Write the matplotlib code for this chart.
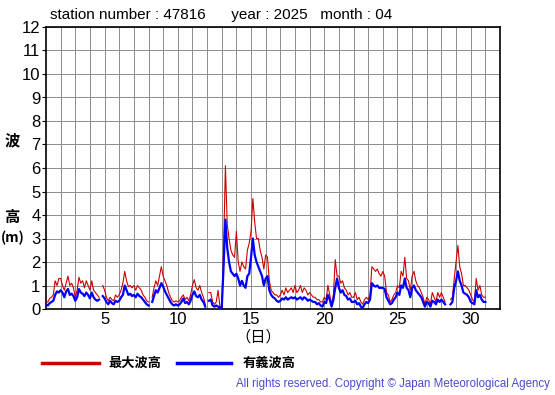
import numpy as np
import matplotlib
matplotlib.use("Agg")
import matplotlib.pyplot as plt

plt.rcParams['font.family'] = ['Liberation Sans', 'Noto Sans CJK JP']

# 3-hourly readings (00,03,...,21 h), one row per day, April 2025
# significant wave height (m)
sig_wave = [
    0.2, 0.15, 0.25, 0.3, 0.35, 0.6, 0.75, 0.7,      # 1
    0.8, 0.7, 0.5, 0.75, 0.85, 0.6, 0.65, 0.55,      # 2
    0.35, 0.5, 0.85, 0.7, 0.65, 0.55, 0.7, 0.6,      # 3
    0.45, 0.7, 0.5, 0.4, 0.35, 0.4, None, 0.55,      # 4
    0.45, 0.3, 0.2, 0.35, 0.25, 0.2, 0.35, 0.3,      # 5
    0.35, 0.5, 0.6, 1.0, 0.8, 0.6, 0.65, 0.55,       # 6
    0.6, 0.5, 0.65, 0.55, 0.5, 0.4, 0.3, 0.2,        # 7
    0.15, None, 0.3, 0.55, 0.8, 0.7, 0.9, 1.1,       # 8
    0.95, 0.75, 0.6, 0.45, 0.3, 0.2, 0.15, 0.2,      # 9
    0.15, 0.2, 0.3, 0.45, 0.25, 0.3, 0.2, 0.35,      # 10
    0.6, 0.75, 0.55, 0.5, 0.6, 0.4, 0.3, 0.1,        # 11
    None, 0.35, 0.4, 0.15, 0.1, 0.15, 0.1, 0.05,     # 12
    0.05, 1.8, 3.8, 2.6, 2.0, 1.6, 1.5, 1.4,         # 13
    1.5, 1.3, 1.0, 1.2, 1.0, 0.9, 1.4, 1.5,          # 14
    2.2, 3.0, 2.3, 2.0, 1.8, 1.6, 1.4, 1.0,          # 15
    1.3, 1.4, 0.8, 0.6, 0.5, 0.45, 0.35, 0.3,        # 16
    0.35, 0.45, 0.4, 0.5, 0.4, 0.45, 0.5, 0.45,      # 17
    0.5, 0.4, 0.45, 0.5, 0.4, 0.5, 0.45, 0.35,       # 18
    0.4, 0.35, 0.3, 0.3, 0.2, 0.25, 0.15, 0.1,       # 19
    0.3, 0.25, 0.6, 0.4, 0.1, 0.4, 0.9, 1.3,         # 20
    0.9, 0.7, 0.8, 0.6, 0.55, 0.4, 0.45, 0.3,        # 21
    0.3, 0.35, 0.2, 0.25, 0.1, 0.05, 0.2, 0.3,       # 22
    0.25, 0.4, 1.1, 1.0, 0.95, 1.0, 0.9, 0.9,        # 23
    0.9, 0.85, 0.5, 0.35, 0.2, 0.25, 0.4, 0.5,       # 24
    0.7, 0.6, 1.0, 0.9, 1.3, 0.9, 0.8, 0.5,          # 25
    0.9, 1.0, 0.8, 0.7, 0.6, 0.5, 0.3, 0.1,          # 26
    0.3, 0.25, 0.1, 0.35, 0.3, 0.2, 0.4, 0.3,        # 27
    0.4, 0.3, 0.2, None, None, 0.2, 0.3, 0.9,        # 28
    1.2, 1.6, 1.2, 1.0, 0.7, 0.65, 0.6, 0.5,         # 29
    0.3, 0.25, 0.2, 0.8, 0.5, 0.6, 0.4, 0.3,         # 30
    0.3,
]

# maximum wave height (m)
max_wave = [
    0.3, 0.3, 0.45, 0.5, 0.6, 1.2, 1.0, 1.3,         # 1
    1.3, 1.0, 0.8, 1.1, 1.4, 1.0, 1.1, 0.9,          # 2
    0.5, 0.8, 1.35, 1.1, 1.2, 0.9, 1.2, 1.0,         # 3
    0.8, 1.2, 0.8, 0.7, 0.6, 0.5, None, 1.0,         # 4
    0.8, 0.5, 0.35, 0.5, 0.4, 0.35, 0.6, 0.5,        # 5
    0.6, 0.8, 1.1, 1.6, 1.2, 0.95, 1.0, 0.9,         # 6
    1.0, 0.8, 1.0, 0.9, 0.8, 0.6, 0.5, 0.35,         # 7
    0.3, None, 0.5, 0.9, 1.2, 1.0, 1.4, 1.8,         # 8
    1.4, 1.2, 1.0, 0.7, 0.5, 0.35, 0.3, 0.35,        # 9
    0.3, 0.35, 0.5, 0.6, 0.4, 0.5, 0.35, 0.6,        # 10
    1.0, 1.25, 0.9, 0.8, 1.0, 0.7, 0.5, 0.2,         # 11
    None, 0.7, 0.7, 0.3, 0.2, 0.3, 0.8, 0.1,         # 12
    0.1, 2.5, 6.1, 3.6, 3.0, 2.5, 2.3, 2.2,          # 13
    3.3, 2.0, 1.6, 2.0, 1.8, 1.7, 2.5, 2.8,          # 14
    3.3, 4.7, 3.7, 3.0, 3.0, 2.5, 2.2, 1.7,          # 15
    2.3, 2.2, 1.2, 0.8, 0.7, 0.6, 0.6, 0.5,          # 16
    0.6, 0.8, 0.6, 0.9, 0.7, 0.8, 0.9, 0.7,          # 17
    1.0, 0.7, 0.8, 1.0, 0.7, 0.9, 0.8, 0.6,          # 18
    0.7, 0.6, 0.5, 0.5, 0.4, 0.4, 0.3, 0.3,          # 19
    0.5, 0.4, 1.0, 0.6, 0.2, 0.6, 2.1, 1.4,          # 20
    1.4, 1.1, 1.2, 0.9, 0.8, 0.6, 0.7, 0.5,          # 21
    0.5, 0.7, 0.4, 0.5, 0.3, 0.2, 0.4, 0.5,          # 22
    0.4, 0.6, 1.8, 1.7, 1.6, 1.7, 1.5, 1.4,          # 23
    1.6, 1.4, 0.7, 0.6, 0.3, 0.4, 0.6, 0.7,          # 24
    1.0, 0.9, 1.6, 1.4, 2.2, 1.3, 1.2, 0.8,          # 25
    1.4, 1.6, 1.2, 1.0, 0.9, 0.7, 0.5, 0.2,          # 26
    0.5, 0.4, 0.2, 0.7, 0.5, 0.3, 0.7, 0.5,          # 27
    0.7, 0.5, 0.3, None, None, 0.4, 0.5, 1.3,        # 28
    2.0, 2.7, 1.8, 1.5, 1.0, 1.0, 0.9, 0.8,          # 29
    0.6, 0.4, 0.3, 1.3, 0.8, 1.0, 0.6, 0.5,          # 30
    0.5,
]

x_ticks = [5, 10, 15, 20, 25, 30]
y_ticks = list(range(0, 13))

hs = np.array([np.nan if v is None else v for v in sig_wave])
hmax = np.array([np.nan if v is None else v for v in max_wave])
days = 1 + np.arange(len(hs)) / 8.0

fig = plt.figure(figsize=(5.55, 3.95), dpi=100)
ax = fig.add_axes([46 / 555, 86 / 395, 454 / 555, 282 / 395])

ax.plot(days, hmax, color="#cc0000", lw=0.8, zorder=3)
ax.plot(days, hs, color="#0000ff", lw=1.6, zorder=4)

ax.set_xlim(1, 32)
ax.set_ylim(0, 12)
ax.set_xticks(x_ticks)
ax.set_xticks(range(2, 32), minor=True)
ax.set_yticks(y_ticks)
ax.grid(True, which="both", color="#8c8c8c", lw=0.7)
ax.tick_params(axis="x", which="both", length=0, labelsize=12, pad=2)
ax.tick_params(axis="y", length=3, labelsize=12, pad=1)
for s in ax.spines.values():
    s.set_linewidth(1.2)

jp = ['Noto Sans CJK JP', 'Liberation Sans']
fig.text(50 / 555, 1 - 15 / 395, "station number : 47816      year : 2025   month : 04",
         fontsize=11, va="center", ha="left")
fig.text(12 / 555, 1 - 140 / 395, "波", family=jp, fontsize=11, fontweight="bold",
         ha="center", va="center")
fig.text(12 / 555, 1 - 217 / 395, "高", family=jp, fontsize=11, fontweight="bold",
         ha="center", va="center")
fig.text(13 / 555, 1 - 238 / 395, "(m)", family=jp, fontsize=10, fontweight="bold",
         ha="center", va="center")
fig.text(258 / 555, 1 - 337 / 395, "（日）", family=jp, fontsize=11,
         ha="center", va="center")

# legend drawn by hand below the axes
fig.add_artist(plt.Line2D([42 / 555, 99 / 555], [1 - 363 / 395] * 2, color="#cc0000", lw=2.5))
fig.text(108 / 555, 1 - 363 / 395, "最大波高", family=jp, fontsize=9.5, fontweight="bold",
         va="center", ha="left")
fig.add_artist(plt.Line2D([177 / 555, 231 / 555], [1 - 363 / 395] * 2, color="#0000ff", lw=2.5))
fig.text(243 / 555, 1 - 363 / 395, "有義波高", family=jp, fontsize=9.5, fontweight="bold",
         va="center", ha="left")

fig.text(550 / 555, 1 - 384 / 395, "All rights reserved. Copyright © Japan Meteorological Agency",
         color="#4a4ad0", fontsize=8.3, ha="right", va="center")

fig.savefig("out.png", dpi=100)
